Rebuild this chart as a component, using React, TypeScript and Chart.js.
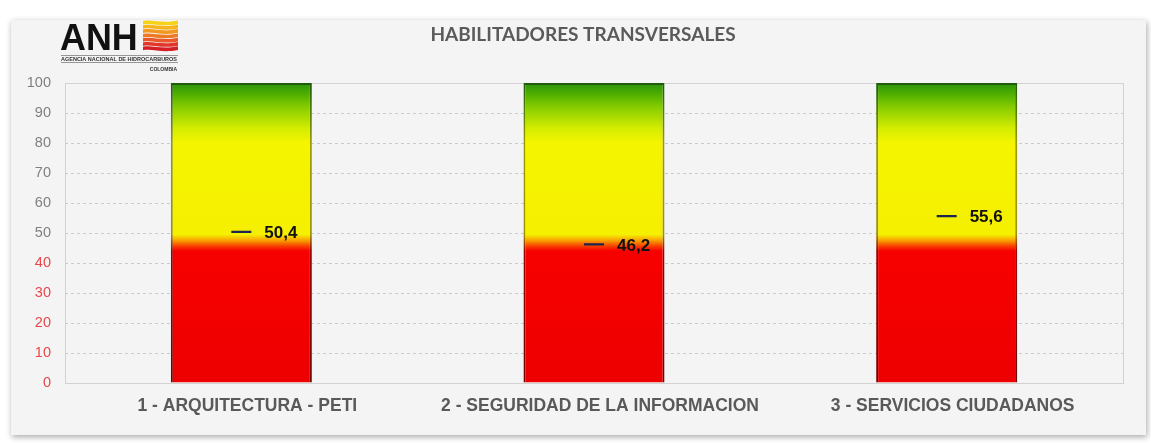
import React, { useEffect, useRef } from "react";
import { Chart, registerables } from "chart.js";

Chart.register(...registerables);

const categories = ["1 - ARQUITECTURA - PETI", "2 - SEGURIDAD DE LA INFORMACION", "3 - SERVICIOS CIUDADANOS"];
const scores = [50.4, 46.2, 55.6];
const scaleTop = [100, 100, 100];
const yMin = 0;
const yMax = 100;
const yStep = 10;
const redTickLimit = 40;
const chartTitle = "HABILITADORES TRANSVERSALES";

const W = 1151;
const H = 443;

// value fraction -> colour (bar background gradient, bottom to top)
const gradientStops: [number, string][] = [
  [0.0, "#ee0000"],
  [0.44, "#f70000"],
  [0.455, "#f83a00"],
  [0.475, "#f8a000"],
  [0.495, "#f5ef00"],
  [0.8, "#f5f500"],
  [0.85, "#d2ec00"],
  [0.92, "#86cc00"],
  [0.97, "#46aa00"],
  [1.0, "#2e9010"],
];
const edgeStops: [number, string][] = [
  [0.0, "#700000"],
  [0.44, "#9a0000"],
  [0.475, "#a05a00"],
  [0.495, "#9a9400"],
  [0.8, "#9a9a00"],
  [0.92, "#4a7a00"],
  [1.0, "#1e5a08"],
];

const panelPlugin = {
  id: "panel",
  beforeDraw(chart: any) {
    const ctx = chart.ctx;
    ctx.save();
    ctx.fillStyle = "#ffffff";
    ctx.fillRect(0, 0, W, H);
    ctx.shadowColor = "rgba(0,0,0,0.35)";
    ctx.shadowBlur = 6;
    ctx.shadowOffsetX = 1;
    ctx.shadowOffsetY = 2;
    ctx.fillStyle = "#f4f4f4";
    ctx.fillRect(11, 20, 1135, 415);
    ctx.restore();

    // Logo
    ctx.save();
    ctx.fillStyle = "#111111";
    ctx.font = "bold 37px 'Liberation Sans', Arial, sans-serif";
    ctx.textBaseline = "alphabetic";
    ctx.textAlign = "left";
    ctx.save();
    ctx.translate(60, 50);
    ctx.scale(0.97, 1.02);
    ctx.fillText("ANH", 0, 0);
    ctx.restore();
    const stripeColors = ["#f7d317", "#f5b51b", "#f29720", "#ee7a24", "#e9572a", "#e2362a", "#d41f26"];
    stripeColors.forEach((c, i) => {
      const y0 = 21 + i * 4.3;
      ctx.beginPath();
      ctx.moveTo(143, y0);
      ctx.bezierCurveTo(152, y0 - 2, 162, y0 + 3, 178, y0 - 0.5);
      ctx.lineTo(178, y0 + 3.2);
      ctx.bezierCurveTo(162, y0 + 6.5, 152, y0 + 1.5, 143, y0 + 3.5);
      ctx.closePath();
      ctx.fillStyle = c;
      ctx.fill();
    });
    ctx.strokeStyle = "#555";
    ctx.lineWidth = 0.6;
    ctx.beginPath();
    ctx.moveTo(61, 55.5);
    ctx.lineTo(178, 55.5);
    ctx.moveTo(61, 62.5);
    ctx.lineTo(178, 62.5);
    ctx.stroke();
    ctx.font = "bold 6px 'Liberation Sans', Arial, sans-serif";
    ctx.fillStyle = "#333";
    const small = "AGENCIA NACIONAL DE HIDROCARBUROS";
    const sw = ctx.measureText(small).width;
    ctx.save();
    ctx.translate(61, 61);
    ctx.scale(116 / sw, 1);
    ctx.fillText(small, 0, 0);
    ctx.restore();
    ctx.font = "bold 5px 'Liberation Sans', Arial, sans-serif";
    ctx.textAlign = "right";
    ctx.fillText("COLOMBIA", 177, 71);
    ctx.restore();
  },
  beforeDatasetsDraw(chart: any) {
    const { ctx, chartArea: a } = chart;
    ctx.save();
    ctx.strokeStyle = "#d2d2d2";
    ctx.lineWidth = 1;
    ctx.strokeRect(Math.round(a.left) + 0.5, Math.round(a.top) + 0.5, Math.round(a.right - a.left), Math.round(a.bottom - a.top));
    ctx.restore();
  },
  afterDraw(chart: any) {
    const ctx = chart.ctx;
    ctx.save();
    ctx.font = "bold 19px Lato, 'Liberation Sans', sans-serif";
    ctx.fillStyle = "#5a5a5a";
    ctx.textAlign = "center";
    ctx.textBaseline = "middle";
    ctx.fillText(chartTitle, 583, 35);
    ctx.restore();
  },
};

const valueLabelPlugin = {
  id: "valueLabels",
  afterDatasetsDraw(chart: any) {
    const ctx = chart.ctx;
    const meta = chart.getDatasetMeta(0);
    ctx.save();
    ctx.font = "bold 17px 'Liberation Sans', Arial, sans-serif";
    ctx.fillStyle = "#111111";
    ctx.textAlign = "left";
    ctx.textBaseline = "middle";
    meta.data.forEach((pt: any, i: number) => {
      const txt = scores[i].toFixed(1).replace(".", ",");
      ctx.fillText(txt, pt.x + 23, pt.y + 1.5);
    });
    ctx.restore();
  },
};

function makeGradient(c: any, stops: [number, string][], fallback: string) {
  const ch = c.chart;
  if (!ch.chartArea) return fallback;
  const ys = ch.scales.y;
  const g = ch.ctx.createLinearGradient(0, ys.getPixelForValue(yMin), 0, ys.getPixelForValue(yMax));
  stops.forEach(([o, col]) => g.addColorStop(o, col));
  return g;
}

export default function App() {
  const ref = useRef<HTMLCanvasElement | null>(null);
  useEffect(() => {
    if (!ref.current) return;
    const chart = new Chart(ref.current, {
      type: "bar",
      data: {
        labels: categories,
        datasets: [
          {
            type: "line",
            data: scores,
            showLine: false,
            pointStyle: "line",
            pointRadius: 10,
            pointHoverRadius: 10,
            pointBorderColor: "#1c2452",
            pointBackgroundColor: "#1c2452",
            pointBorderWidth: 2.2,
            borderColor: "#1c2452",
            order: 0,
          } as any,
          {
            type: "bar",
            data: scaleTop,
            backgroundColor: (c: any) => makeGradient(c, gradientStops, "#f00"),
            borderColor: (c: any) => makeGradient(c, edgeStops, "#800"),
            borderWidth: 2,
            barPercentage: 0.4,
            categoryPercentage: 1,
            order: 1,
          } as any,
        ],
      },
      options: {
        responsive: false,
        animation: false,
        devicePixelRatio: 1,
        events: [],
        layout: { padding: { left: 10, right: 28, top: 83, bottom: 10 } },
        plugins: {
          legend: { display: false },
          tooltip: { enabled: false },
          title: { display: false },
        },
        scales: {
          x: {
            grid: { display: false },
            border: { display: false },
            ticks: {
              color: "#595959",
              font: { family: "'Liberation Sans', Arial, sans-serif", size: 17.5, weight: "bold" },
              padding: 5,
              labelOffset: 6,
              maxRotation: 0,
              autoSkip: false,
            },
            afterFit(s: any) {
              s.height = 50;
            },
          },
          y: {
            min: yMin,
            max: yMax,
            ticks: {
              stepSize: yStep,
              padding: 14,
              color: (c: any) => (c.tick.value <= redTickLimit ? "#e8474b" : "#7f7f7f"),
              font: { family: "'Liberation Sans', Arial, sans-serif", size: 14.5 },
            },
            grid: { color: "#cacaca", drawTicks: false, lineWidth: 1 },
            border: { display: false, dash: [3, 3] },
            afterFit(s: any) {
              s.width = 55;
            },
          },
        } as any,
      },
      plugins: [panelPlugin, valueLabelPlugin],
    });
    return () => chart.destroy();
  }, []);
  return (
    <div style={{ position: "fixed", left: 0, top: 0, width: W, height: H }}>
      <canvas ref={ref} width={W} height={H} style={{ display: "block" }} />
    </div>
  );
}
